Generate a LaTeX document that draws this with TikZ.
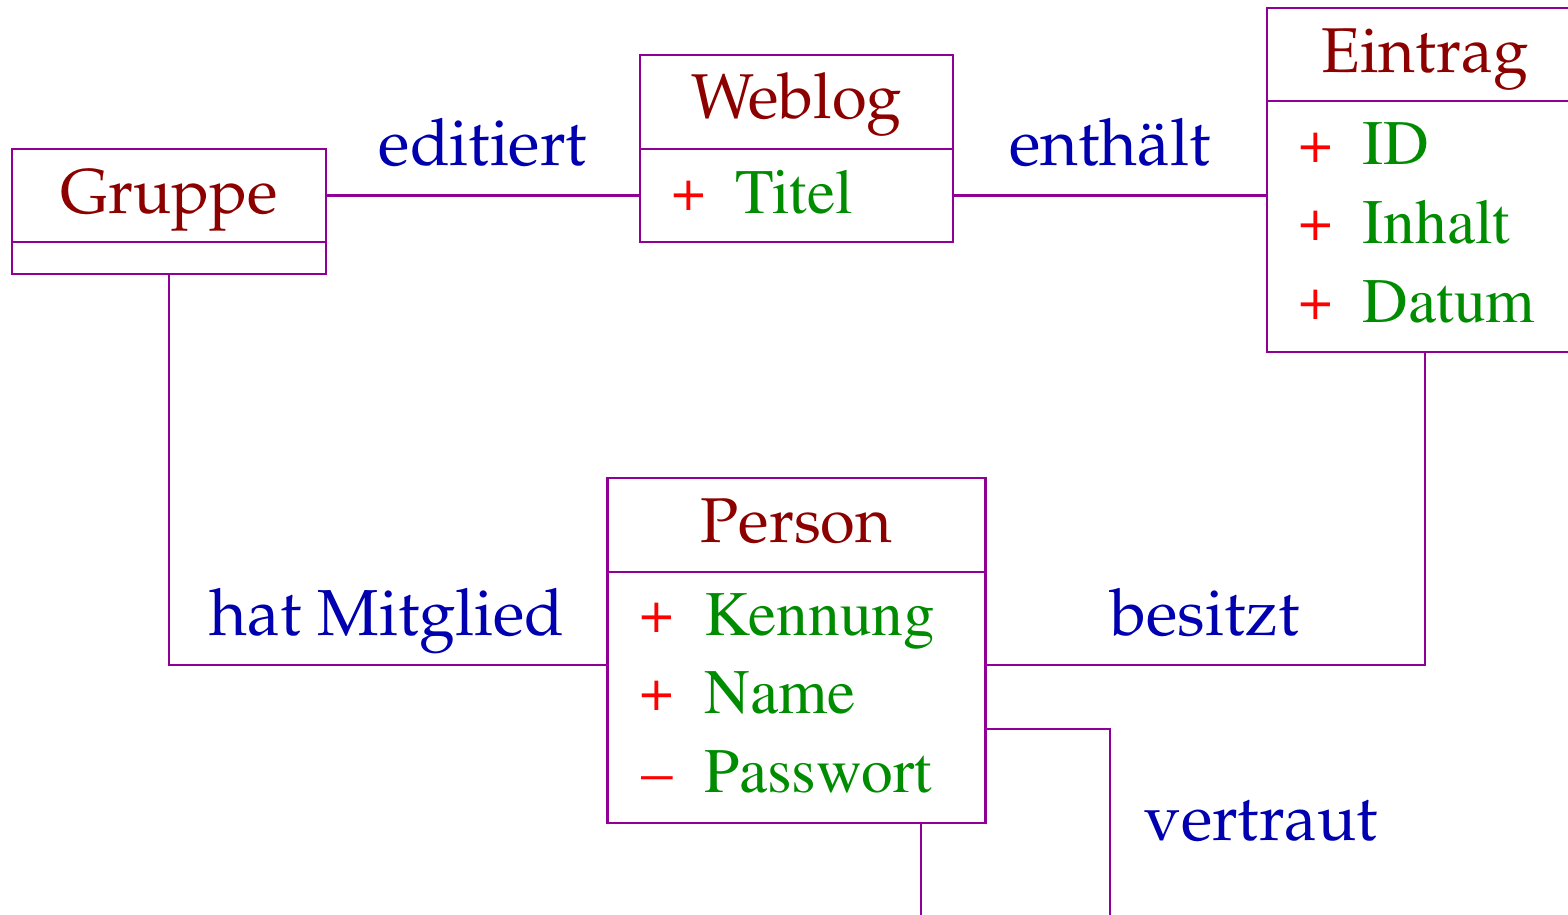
\documentclass[tikz,border=0pt]{standalone}
\usepackage[T1]{fontenc}
\usepackage{mathpazo}
\definecolor{linec}{RGB}{145,0,150}
\definecolor{titlec}{RGB}{140,0,0}
\definecolor{attrc}{RGB}{0,140,0}
\definecolor{labelc}{RGB}{0,0,176}
\definecolor{signc}{RGB}{255,0,0}
\newcommand{\attrfont}{\fontfamily{ptm}\fontsize{18}{22}\selectfont}
\newcommand{\plussign}{\raisebox{0.6pt}{\fontfamily{ptm}\fontsize{16.5}{18}\selectfont +}}
\tikzset{
  cbox/.style={draw=linec, line width=0.8pt, inner sep=0pt, fill=none},
  ttl/.style={anchor=base, inner sep=0pt, text=titlec, font=\fontsize{18}{22}\selectfont},
  attr/.style={anchor=base west, inner sep=0pt, text=attrc, font=\attrfont},
  sgn/.style={anchor=base, inner sep=0pt, text=signc, font=\attrfont},
  lbl/.style={anchor=base, inner sep=0pt, text=labelc, font=\fontsize{18.5}{22}\selectfont},
  conn/.style={draw=linec, line width=0.8pt},
}
\begin{document}
\begin{tikzpicture}[x=0.01cm, y=-0.01cm]
\useasboundingbox (0,0) rectangle (1568,915);
\clip (0,0) rectangle (1568,915);
% Gruppe
\node[cbox, minimum width=3.14cm, minimum height=0.93cm] (gH) at (169,195.5) {};
\node[cbox, minimum width=3.14cm, minimum height=0.32cm] (gB) at (169,258) {};
\node[ttl] (gT) at (169,213) {Gruppe};
% Weblog
\node[cbox, minimum width=3.13cm, minimum height=0.94cm] (wH) at (796.5,102) {};
\node[cbox, minimum width=3.13cm, minimum height=0.93cm] (wB) at (796.5,195.5) {};
\node[ttl] (wT) at (796.5,118) {Weblog};
\node[sgn] (wS1) at (689,213) {\plussign};
\node[attr] (wA1) at (735,213) {Titel};
% Eintrag
\node[cbox, minimum width=3.16cm, minimum height=0.93cm] (eH) at (1425,54.5) {};
\node[cbox, minimum width=3.16cm, minimum height=2.51cm] (eB) at (1425,226.5) {};
\node[ttl] (eT) at (1425,72) {Eintrag};
\node[sgn] (eS1) at (1316,165) {\plussign};
\node[attr] (eA1) at (1362,165) {ID};
\node[sgn] (eS2) at (1316,243) {\plussign};
\node[attr] (eA2) at (1362,243) {Inhalt};
\node[sgn] (eS3) at (1316,322) {\plussign};
\node[attr] (eA3) at (1362,322) {Datum};
% Person
\node[cbox, minimum width=3.77cm, minimum height=0.94cm] (pH) at (796.5,525) {};
\node[cbox, minimum width=3.77cm, minimum height=2.51cm] (pB) at (796.5,697.5) {};
\node[ttl] (pT) at (796.5,542) {Person};
\node[sgn] (pS1) at (657,635) {\plussign};
\node[attr] (pA1) at (704,635) {Kennung};
\node[sgn] (pS2) at (657,713) {\plussign};
\node[attr] (pA2) at (704,713) {Name};
\node[sgn] (pS3) at (657,792) {--};
\node[attr] (pA3) at (704,792) {Passwort};
% connectors
\draw[conn] (gH.east) -- (wB.west);
\draw[conn] (wB.east) -- (wB.east -| eB.west);
\draw[conn] (gB.south) |- (pB.west |- 0,665);
\draw[conn] (pB.east |- 0,665) -| (eB.south);
\coordinate (vEnd) at (1110,930);
\draw[conn] (pB.east |- 0,729) -| (vEnd);
\coordinate (bEnd) at (921,930);
\draw[conn] (pB.south -| bEnd) -- (bEnd);
% labels
\node[lbl] (l1) at (483,166) {editiert};
\node[lbl] (l2) at (1110,166) {enth\"alt};
\node[lbl] (l3) at (387,636) {hat Mitglied};
\node[lbl] (l4) at (1205,636) {besitzt};
\node[lbl] (l5) at (1261,840) {vertraut};
\end{tikzpicture}
\end{document}
